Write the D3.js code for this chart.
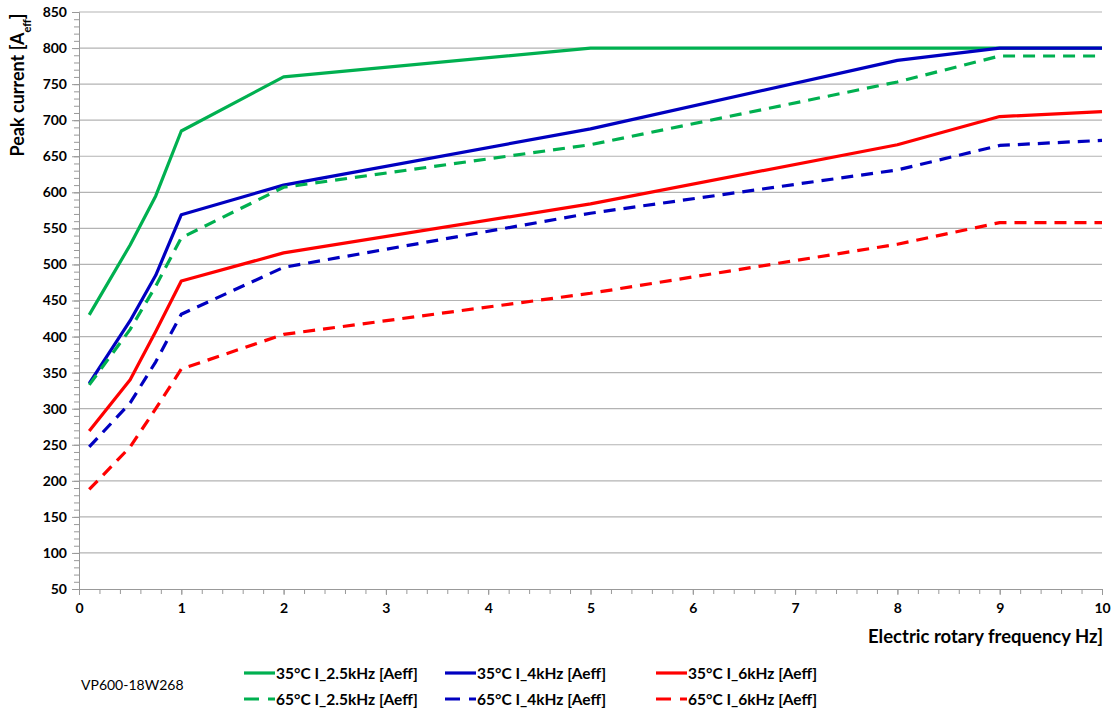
<!DOCTYPE html>
<html>
<head>
<meta charset="utf-8">
<script src="https://cdn.jsdelivr.net/npm/d3@7"></script>
<style>
  body { margin: 0; background: #fff; }
  svg text { font-family: Lato, "Open Sans", sans-serif; fill: #000; }
  .tick-label { font-weight: bold; font-size: 14px; }
  .legend-text { font-weight: bold; font-size: 15.5px; }
</style>
</head>
<body>
<div id="chart"></div>
<script>
// x positions (Hz) of the data points
var freq = [0.1, 0.5, 0.75, 1, 2, 5, 8, 9, 10];

var s35_2k5 = [430, 527, 595, 685, 760, 800, 800, 800, 800];
var s35_4k  = [335, 422, 485, 569, 610, 688, 783, 800, 800];
var s35_6k  = [269, 340, 407, 477, 516, 584, 666, 705, 712];
var s65_2k5 = [333, 410, 470, 537, 607, 666, 753, 789, 789];
var s65_4k  = [247, 308, 365, 431, 496, 571, 631, 665, 672];
var s65_6k  = [188, 247, 300, 355, 403, 460, 528, 558, 558];

var seriesNames = [
  "35°C I_2.5kHz [Aeff]", "35°C I_4kHz [Aeff]", "35°C I_6kHz [Aeff]",
  "65°C I_2.5kHz [Aeff]", "65°C I_4kHz [Aeff]", "65°C I_6kHz [Aeff]"
];
var xTicks = [0, 1, 2, 3, 4, 5, 6, 7, 8, 9, 10];
var yTicks = [50, 100, 150, 200, 250, 300, 350, 400, 450, 500, 550, 600, 650, 700, 750, 800, 850];

var series = [
  { name: seriesNames[0], values: s35_2k5, color: "#00b050", dash: null },
  { name: seriesNames[1], values: s35_4k,  color: "#0000c0", dash: null },
  { name: seriesNames[2], values: s35_6k,  color: "#ff0000", dash: null },
  { name: seriesNames[3], values: s65_2k5, color: "#00b050", dash: "12,8" },
  { name: seriesNames[4], values: s65_4k,  color: "#0000c0", dash: "12,8" },
  { name: seriesNames[5], values: s65_6k,  color: "#ff0000", dash: "12,8" }
];

var W = 1116, H = 711;
var margin = { top: 12, right: 14, bottom: 122, left: 79 };
var width = W - margin.left - margin.right;
var height = H - margin.top - margin.bottom;

var svg = d3.select("#chart").append("svg")
    .attr("width", W)
    .attr("height", H);

var g = svg.append("g")
    .attr("transform", "translate(" + margin.left + "," + margin.top + ")");

var x = d3.scaleLinear().domain([0, 10]).range([0, width]);
var y = d3.scaleLinear().domain([50, 850]).range([height, 0]);

// horizontal gridlines
g.append("g")
  .selectAll("line")
  .data(yTicks.slice(1))
  .enter().append("line")
    .attr("x1", 0).attr("x2", width)
    .attr("y1", function(d) { return y(d); })
    .attr("y2", function(d) { return y(d); })
    .attr("stroke", "#b3b3b3")
    .attr("stroke-width", 1.2);

// minor ticks on y
g.append("g")
  .attr("class", "yminor")
  .call(d3.axisLeft(y).tickValues(d3.range(50, 851, 10)).tickSize(5).tickFormat(""))
  .call(function(a) {
    a.select(".domain").remove();
    a.selectAll("line").attr("stroke", "#999");
  });

// y axis
g.append("g")
  .attr("class", "yaxis")
  .call(d3.axisLeft(y).tickValues(yTicks).tickSize(7).tickPadding(5))
  .call(function(a) {
    a.select(".domain").attr("stroke", "#999");
    a.selectAll("line").attr("stroke", "#999");
    a.selectAll("text").attr("class", "tick-label");
  });

// minor ticks on x
g.append("g")
  .attr("transform", "translate(0," + height + ")")
  .call(d3.axisBottom(x).tickValues(d3.range(0, 10.01, 0.2)).tickSize(5).tickFormat(""))
  .call(function(a) {
    a.select(".domain").remove();
    a.selectAll("line").attr("stroke", "#999");
  });

// x axis
g.append("g")
  .attr("class", "xaxis")
  .attr("transform", "translate(0," + height + ")")
  .call(d3.axisBottom(x).tickValues(xTicks).tickSize(6).tickPadding(8).tickFormat(d3.format("d")))
  .call(function(a) {
    a.select(".domain").attr("stroke", "#999");
    a.selectAll("line").attr("stroke", "#999");
    a.selectAll("text").attr("class", "tick-label");
  });

// lines
var line = d3.line()
  .x(function(d, i) { return x(freq[i]); })
  .y(function(d) { return y(d); });

g.selectAll(".series")
  .data(series)
  .enter().append("path")
    .attr("class", "series")
    .attr("d", function(d) { return line(d.values); })
    .attr("fill", "none")
    .attr("stroke", function(d) { return d.color; })
    .attr("stroke-width", 3.2)
    .attr("stroke-linejoin", "round")
    .attr("stroke-dasharray", function(d) { return d.dash; });

// axis titles
var ytitle = svg.append("text")
  .attr("transform", "translate(24,85) rotate(-90)")
  .attr("text-anchor", "middle")
  .style("font-weight", "bold")
  .style("font-size", "18px");
ytitle.append("tspan").text("Peak current [A");
ytitle.append("tspan")
  .attr("baseline-shift", "sub")
  .style("font-size", "11px")
  .text("eff");
ytitle.append("tspan").text("]");

svg.append("text")
  .attr("x", 1103)
  .attr("y", 643)
  .attr("text-anchor", "end")
  .style("font-weight", "bold")
  .style("font-size", "18.5px")
  .text("Electric rotary frequency Hz]");

svg.append("text")
  .attr("x", 81)
  .attr("y", 690)
  .style("font-size", "14px")
  .text("VP600-18W268");

// legend
var legendX = [244, 445, 656];
var legendY = [673, 699];
var legend = svg.selectAll(".legend")
  .data(series)
  .enter().append("g")
    .attr("class", "legend")
    .attr("transform", function(d, i) {
      return "translate(" + legendX[i % 3] + "," + legendY[Math.floor(i / 3)] + ")";
    });

legend.append("line")
  .attr("x1", 0).attr("x2", 31)
  .attr("y1", 0).attr("y2", 0)
  .attr("stroke", function(d) { return d.color; })
  .attr("stroke-width", 3.2)
  .attr("stroke-dasharray", function(d) { return d.dash ? "15,9" : null; });

legend.append("text")
  .attr("class", "legend-text")
  .attr("x", 32)
  .attr("y", 5.5)
  .text(function(d) { return d.name; });
</script>
</body>
</html>
